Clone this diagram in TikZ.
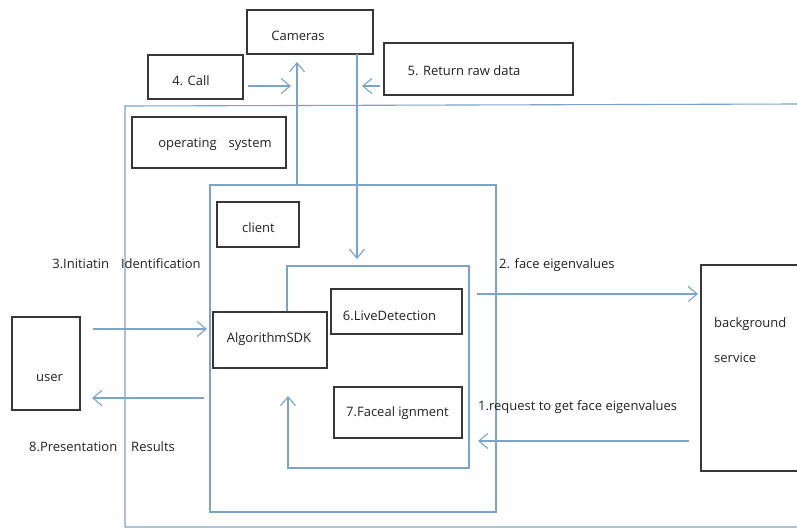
\documentclass[tikz,border=0pt]{standalone}
\usepackage{fontspec}
\setmainfont{Open Sans}
\usetikzlibrary{arrows.meta}
\definecolor{bline}{RGB}{125,163,200}
\definecolor{bdark}{RGB}{55,55,55}
\definecolor{tcol}{RGB}{35,35,35}
\tikzset{
  box/.style={draw=bdark, line width=1.3pt, inner sep=0pt, fill=white},
  txt/.style={text=tcol, font=\fontsize{13}{15}\selectfont, inner sep=0pt},
  flow/.style={draw=bline, line width=1.1pt},
  arr/.style={flow, -{Straight Barb[length=9pt,width=15pt,line width=1.1pt]}},
}
\begin{document}
\begin{tikzpicture}[x=1pt,y=-1pt]
\useasboundingbox[fill=white] (0,0) rectangle (797,528);
% operating system frame
\draw[flow] (797,104) -- (125,106) -- (125,527) -- (797,527);
% client frame
\draw[flow] (210,185) rectangle (496,512);
% boxes
\node[box, minimum width=126pt, minimum height=44pt] (cam) at (310,32) {};
\node[box, minimum width=95pt, minimum height=44pt] (call) at (195.5,77) {};
\node[box, minimum width=189pt, minimum height=52pt] (ret) at (478.5,69) {};
\node[box, minimum width=154pt, minimum height=51pt] (os) at (209,142.5) {};
\node[box, minimum width=82pt, minimum height=45pt] (cli) at (258,224.5) {};
\node[box, minimum width=114pt, minimum height=56pt] (sdk) at (270,340) {};
\node[box, minimum width=131pt, minimum height=45pt] (live) at (396.5,311.5) {};
\node[box, minimum width=128pt, minimum height=51pt] (face) at (398,412.5) {};
\node[box, minimum width=68pt, minimum height=93pt] (user) at (46,363.5) {};
\draw[draw=bdark, line width=1.3pt] (800,265) -- (701,265) -- (701,471) -- (800,471);
% texts
\node[txt] (tcam) at (298,36) {Cameras};
\node[txt] (tcall) at (191,81) {4. Call};
\node[txt] (tret) at (464,71) {5. Return raw data};
\node[txt] (tos) at (215,144) {operating\hspace{12pt}system};
\node[txt] (tcli) at (258.5,228) {client};
\node[txt] (tsdk) at (269,339) {AlgorithmSDK};
\node[txt] (tlive) at (389.5,316) {6.LiveDetection};
\node[txt] (tface) at (397.5,413) {7.Faceal ignment};
\node[txt] (tuser) at (49.5,378) {user};
\node[txt, anchor=west] (tbg1) at (714,324) {background};
\node[txt, anchor=west] (tbg2) at (714,358) {service};
\node[txt] (tinit) at (126.5,264) {3.Initiatin\hspace{12pt}Identification};
\node[txt] (tpres) at (102,447) {8.Presentation\hspace{14pt}Results};
\node[txt, anchor=west] (tfe) at (499,265) {2. face eigenvalues};
\node[txt, anchor=west] (treq) at (478,407) {1.request to get face eigenvalues};
% connectors
\coordinate (c1) at (248,86);
\coordinate (c2) at (291,86);
\draw[arr] (c1) -- (c2);
\coordinate (r1) at (380,86);
\coordinate (r2) at (362,86);
\draw[arr] (r1) -- (r2);
\coordinate (up1) at (297,185);
\coordinate (up2) at (297,62);
\draw[arr] (up1) -- (up2);
\coordinate (dn1) at (357,54);
\coordinate (dn2) at (357,259);
\draw[arr] (dn1) -- (dn2);
\coordinate (u1) at (93,329);
\coordinate (u2) at (207,329);
\draw[arr] (u1) -- (u2);
\coordinate (b1) at (204,398);
\coordinate (b2) at (92,398);
\draw[arr] (b1) -- (b2);
\coordinate (f1) at (477,294);
\coordinate (f2) at (698,294);
\draw[arr] (f1) -- (f2);
\coordinate (q1) at (689,441);
\coordinate (q2) at (478,441);
\draw[arr] (q1) -- (q2);
\coordinate (lp) at (288,396);
\draw[arr] (sdk.north -| 287,0) -- (287,266) -- (469,266) -- (469,468) -- (288,468) -- (lp);
\end{tikzpicture}
\end{document}
